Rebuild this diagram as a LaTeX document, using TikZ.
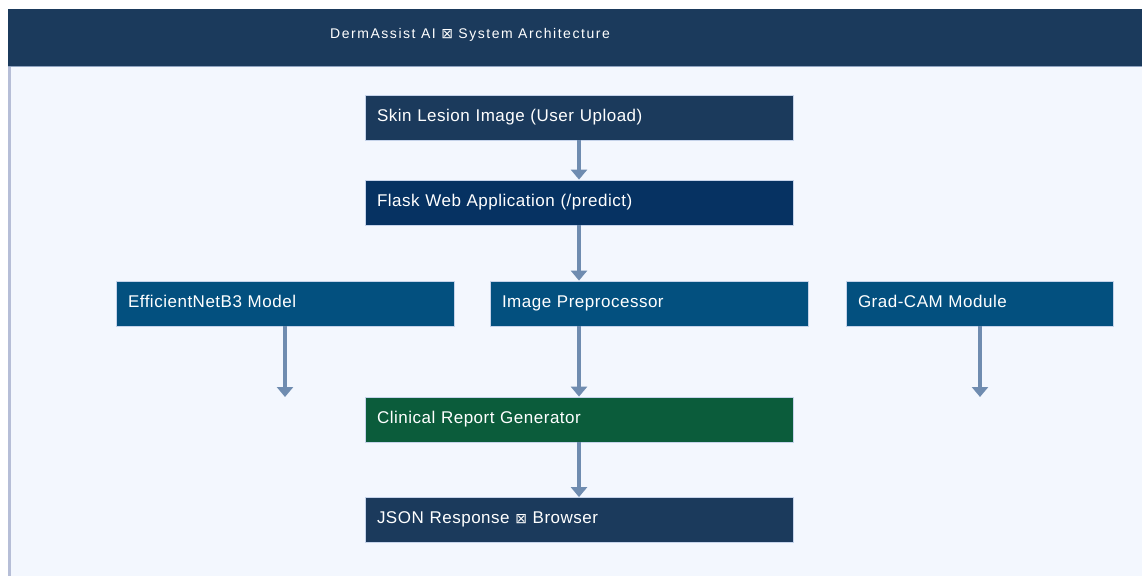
\documentclass[tikz,border=0pt]{standalone}
\usepackage{fontspec}
\usepackage{tikz}
\usetikzlibrary{arrows.meta}
\setmainfont{Liberation Sans}
\newfontfamily\headfont[LetterSpace=11]{Liberation Sans}
\newfontfamily\blockfont[LetterSpace=3]{Liberation Sans}
\newfontfamily\glyphfont{DejaVu Sans}
\newcommand\tofu{{\glyphfont\fontsize{14}{16}\selectfont ⊠}}

\definecolor{navy}{HTML}{1B3A5C}
\definecolor{deepblue}{HTML}{063262}
\definecolor{midblue}{HTML}{03507F}
\definecolor{darkgreen}{HTML}{0B5C3B}
\definecolor{pagebg}{HTML}{F3F7FE}
\definecolor{strip}{HTML}{B6BED7}
\definecolor{rulecol}{HTML}{8FA3C0}
\definecolor{edgecol}{HTML}{C5D3EA}
\definecolor{flowcol}{HTML}{6F8CB0}

\tikzset{
  block/.style={draw=edgecol, line width=0.8pt, text=white,
    font=\blockfont\fontsize{17}{20}\selectfont,
    minimum height=45pt, inner xsep=12pt, inner ysep=0pt,
    text width=#1, text height=12.5pt, text depth=5pt, align=left},
  flow/.style={draw=flowcol, line width=3.4pt,
    -{Triangle[width=16pt,length=10pt]}}
}

\begin{document}
\begin{tikzpicture}[x=1pt,y=-1pt]
\useasboundingbox (0,0) rectangle (1142,576);
\fill[white] (0,0) rectangle (1142,576);
\fill[pagebg] (8,66) rectangle (1142,576);
\fill[strip] (8,66) rectangle (11,576);
\fill[navy] (8,9) rectangle (1142,66);
\draw[rulecol, line width=1pt] (8,66.5) -- (1142,66.5);

\node[anchor=west, text=white, font=\headfont\fontsize{14}{16}\selectfont, inner sep=0pt]
  (title) at (330,35) {DermAssist AI \tofu{} System Architecture};

\node[block=404pt, fill=navy] (upload) at (579,117.5) {Skin Lesion Image (User Upload)};
\node[block=404pt, fill=deepblue] (flask) at (579,202.5) {Flask Web Application (/predict)};

\node[block=314pt, fill=midblue] (model) at (285,303.5) {EfficientNetB3 Model};
\node[block=294pt, fill=midblue] (prep) at (649,303.5) {Image Preprocessor};
\node[block=243pt, fill=midblue] (gradcam) at (979.5,303.5) {Grad-CAM Module};

\node[block=404pt, fill=darkgreen] (report) at (579,419.5) {Clinical Report Generator};
\node[block=404pt, fill=navy] (response) at (579,520) {JSON Response \tofu{} Browser};

\coordinate (modelout) at (285,397);
\coordinate (camout) at (980,397);

\draw[flow] (upload) -- (flask);
\draw[flow] (flask.south) -- (flask.south |- prep.north);
\draw[flow] (flask.south |- prep.south) -- (flask.south |- report.north);
\draw[flow] (model) -- (modelout);
\draw[flow] (gradcam.south -| camout) -- (camout);
\draw[flow] (report) -- (response);
\end{tikzpicture}
\end{document}
